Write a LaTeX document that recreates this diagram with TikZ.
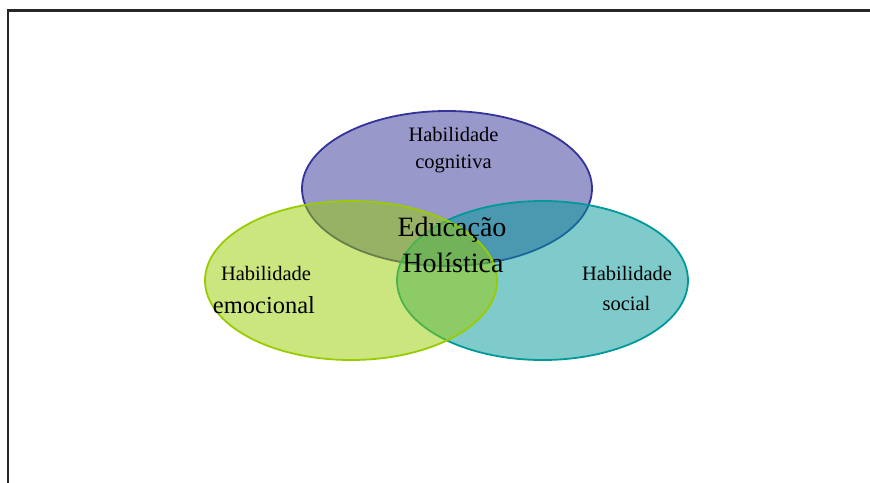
\documentclass[tikz,border=0pt]{standalone}
\usepackage{fontspec}
\setmainfont{Liberation Serif}
\usetikzlibrary{shapes.geometric}
\definecolor{cogc}{HTML}{333399}
\definecolor{emoc}{HTML}{99CC00}
\definecolor{socc}{HTML}{009999}
\tikzset{
  venn/.style={ellipse, draw, line width=1.8pt, fill opacity=0.5, draw opacity=1, inner sep=0pt},
  small/.style={anchor=base, inner sep=0pt, font=\fontsize{20.5}{24}\selectfont},
  big/.style={anchor=base, inner sep=0pt, font=\fontsize{28}{32}\selectfont},
}
\begin{document}
\begin{tikzpicture}[x=1pt,y=-1pt]
\clip (0,0) rectangle (870,482);
\fill[white] (0,0) rectangle (870,482);
\draw[line width=2.2pt, black!85] (900,10.4) -- (7.8,10.4) -- (7.8,520);
\node[venn, draw=cogc, fill=cogc, minimum width=290pt, minimum height=155pt] (cog) at (447,188.5) {};
\node[venn, draw=socc, fill=socc, minimum width=291pt, minimum height=159pt] (soc) at (542.5,280.5) {};
\node[venn, draw=emoc, fill=emoc, minimum width=292pt, minimum height=159pt] (emo) at (351,280.5) {};
\node[small] (cog1) at (453.5,141) {Habilidade};
\node[small] (cog2) at (453.5,168) {cognitiva};
\node[big] (ed1) at (452,236.7) {Educação};
\node[big] (ed2) at (453,272.7) {Holística};
\node[small] (emo1) at (266,280.7) {Habilidade};
\node[small, font=\fontsize{24.5}{28}\selectfont] (emo2) at (264,313) {emocional};
\node[small] (soc1) at (627,280.7) {Habilidade};
\node[small] (soc2) at (626.5,310.7) {social};
\end{tikzpicture}
\end{document}
